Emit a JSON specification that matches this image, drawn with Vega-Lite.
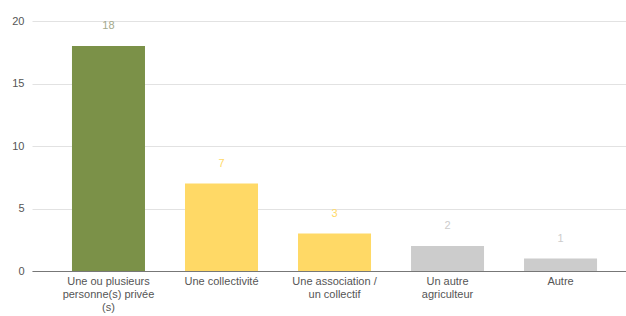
{
  "$schema": "https://vega.github.io/schema/vega-lite/v6.json",
  "width": 594,
  "height": 250,
  "autosize": {"type": "none"},
  "padding": {"left": 32, "top": 21, "right": 0, "bottom": 45},
  "background": "white",
  "config": {"view": {"stroke": null}, "font": "Liberation Sans"},
  "data": {
    "values": [
      {"categorie": "Une ou plusieurs|personne(s) privée|(s)", "valeur": 18, "groupe": "a"},
      {"categorie": "Une collectivité", "valeur": 7, "groupe": "b"},
      {"categorie": "Une association /|un collectif", "valeur": 3, "groupe": "b"},
      {"categorie": "Un autre|agriculteur", "valeur": 2, "groupe": "c"},
      {"categorie": "Autre", "valeur": 1, "groupe": "c"}
    ]
  },
  "encoding": {
    "x": {
      "field": "categorie",
      "type": "nominal",
      "sort": null,
      "scale": {"paddingInner": 0.354, "paddingOuter": 0.305, "align": 0.58},
      "axis": {
        "title": null,
        "labelAngle": 0,
        "labelExpr": "split(datum.value, '|')",
        "labelFontSize": 11,
        "labelColor": "#555555",
        "labelLineHeight": 13,
        "labelPadding": 4,
        "ticks": false,
        "domainColor": "#777777",
        "domainWidth": 1.2,
        "grid": false
      }
    },
    "y": {
      "field": "valeur",
      "type": "quantitative",
      "scale": {"domain": [0, 20], "nice": false},
      "axis": {
        "title": null,
        "values": [0, 5, 10, 15, 20],
        "labelFontSize": 11,
        "labelColor": "#555555",
        "labelPadding": 8,
        "ticks": false,
        "domain": false,
        "gridColor": "#e2e2e2",
        "gridWidth": 1
      }
    }
  },
  "layer": [
    {
      "mark": {"type": "bar"},
      "encoding": {
        "color": {
          "field": "groupe",
          "type": "nominal",
          "scale": {"domain": ["a", "b", "c"], "range": ["#7b9148", "#ffd966", "#cccccc"]},
          "legend": null
        }
      }
    },
    {
      "mark": {"type": "text", "dy": -20, "fontSize": 11, "baseline": "middle"},
      "encoding": {
        "text": {"field": "valeur", "type": "quantitative"},
        "color": {
          "field": "groupe",
          "type": "nominal",
          "scale": {"domain": ["a", "b", "c"], "range": ["#a4a98c", "#ffd966", "#cccccc"]},
          "legend": null
        }
      }
    }
  ],
  "resolve": {"scale": {"color": "independent"}}
}
